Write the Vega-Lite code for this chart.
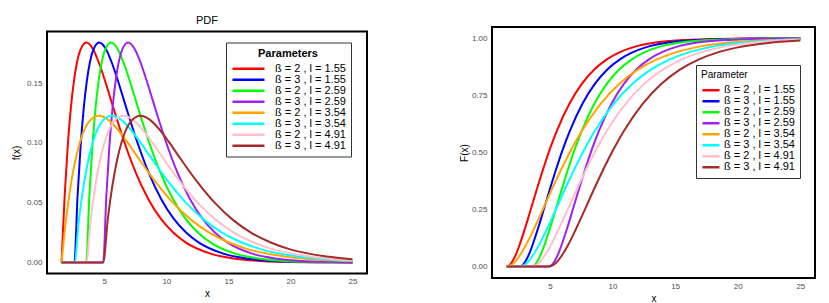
{
  "$schema": "https://vega.github.io/schema/vega-lite/v6.json",
  "padding": {"left": 10, "top": 13, "right": 5, "bottom": 5},
  "background": "white",
  "config": {
    "font": "Liberation Sans",
    "view": {"stroke": "black", "strokeWidth": 2},
    "axis": {"grid": false, "ticks": false, "domain": false, "labelFont": "Liberation Sans", "labelFontSize": 8, "labelColor": "#4d4d4d", "labelPadding": 5, "titleFont": "Liberation Sans", "titleFontWeight": "normal", "titleFontSize": 10, "titleColor": "black"},
    "title": {"font": "Liberation Sans", "fontWeight": "normal", "color": "black"},
    "legend": {"labelFont": "Liberation Sans", "titleFont": "Liberation Sans", "labelColor": "black", "titleColor": "black", "fillColor": "white", "strokeColor": "#333333", "symbolType": "stroke", "symbolStrokeWidth": 2.5}
  },
  "datasets": {
    "d": [
      {"s":"ß = 2 , l = 1.55","x":1.55,"pdf":0,"cdf":0},
      {"s":"ß = 2 , l = 1.55","x":1.8,"pdf":0.0552,"cdf":0.0072},
      {"s":"ß = 2 , l = 1.55","x":2.05,"pdf":0.0974,"cdf":0.0265},
      {"s":"ß = 2 , l = 1.55","x":2.3,"pdf":0.1289,"cdf":0.055},
      {"s":"ß = 2 , l = 1.55","x":2.55,"pdf":0.1516,"cdf":0.0902},
      {"s":"ß = 2 , l = 1.55","x":3.05,"pdf":0.1771,"cdf":0.1734},
      {"s":"ß = 2 , l = 1.55","x":3.55,"pdf":0.1839,"cdf":0.2642},
      {"s":"ß = 2 , l = 1.55","x":4.05,"pdf":0.1791,"cdf":0.3554},
      {"s":"ß = 2 , l = 1.55","x":4.55,"pdf":0.1674,"cdf":0.4422},
      {"s":"ß = 2 , l = 1.55","x":5.05,"pdf":0.1521,"cdf":0.5221},
      {"s":"ß = 2 , l = 1.55","x":5.55,"pdf":0.1353,"cdf":0.594},
      {"s":"ß = 2 , l = 1.55","x":6.55,"pdf":0.1026,"cdf":0.7127},
      {"s":"ß = 2 , l = 1.55","x":7.55,"pdf":0.0747,"cdf":0.8009},
      {"s":"ß = 2 , l = 1.55","x":8.55,"pdf":0.0529,"cdf":0.8641},
      {"s":"ß = 2 , l = 1.55","x":9.55,"pdf":0.0366,"cdf":0.9084},
      {"s":"ß = 2 , l = 1.55","x":10.55,"pdf":0.025,"cdf":0.9389},
      {"s":"ß = 2 , l = 1.55","x":11.55,"pdf":0.0168,"cdf":0.9596},
      {"s":"ß = 2 , l = 1.55","x":13.55,"pdf":0.0074,"cdf":0.9827},
      {"s":"ß = 2 , l = 1.55","x":15.55,"pdf":0.0032,"cdf":0.9927},
      {"s":"ß = 2 , l = 1.55","x":17.55,"pdf":0.0013,"cdf":0.997},
      {"s":"ß = 2 , l = 1.55","x":19.55,"pdf":0.0006,"cdf":0.9988},
      {"s":"ß = 2 , l = 1.55","x":21.55,"pdf":0.0002,"cdf":0.9995},
      {"s":"ß = 2 , l = 1.55","x":23.55,"pdf":0.0001,"cdf":0.9998},
      {"s":"ß = 2 , l = 1.55","x":25,"pdf":0.0001,"cdf":0.9999},

      {"s":"ß = 3 , l = 1.55","x":1.55,"pdf":0,"cdf":0},
      {"s":"ß = 3 , l = 1.55","x":2.59,"pdf":0,"cdf":0},
      {"s":"ß = 3 , l = 1.55","x":2.84,"pdf":0.0552,"cdf":0.0072},
      {"s":"ß = 3 , l = 1.55","x":3.09,"pdf":0.0974,"cdf":0.0265},
      {"s":"ß = 3 , l = 1.55","x":3.34,"pdf":0.1289,"cdf":0.055},
      {"s":"ß = 3 , l = 1.55","x":3.59,"pdf":0.1516,"cdf":0.0902},
      {"s":"ß = 3 , l = 1.55","x":4.09,"pdf":0.1771,"cdf":0.1734},
      {"s":"ß = 3 , l = 1.55","x":4.59,"pdf":0.1839,"cdf":0.2642},
      {"s":"ß = 3 , l = 1.55","x":5.09,"pdf":0.1791,"cdf":0.3554},
      {"s":"ß = 3 , l = 1.55","x":5.59,"pdf":0.1674,"cdf":0.4422},
      {"s":"ß = 3 , l = 1.55","x":6.09,"pdf":0.1521,"cdf":0.5221},
      {"s":"ß = 3 , l = 1.55","x":6.59,"pdf":0.1353,"cdf":0.594},
      {"s":"ß = 3 , l = 1.55","x":7.59,"pdf":0.1026,"cdf":0.7127},
      {"s":"ß = 3 , l = 1.55","x":8.59,"pdf":0.0747,"cdf":0.8009},
      {"s":"ß = 3 , l = 1.55","x":9.59,"pdf":0.0529,"cdf":0.8641},
      {"s":"ß = 3 , l = 1.55","x":10.59,"pdf":0.0366,"cdf":0.9084},
      {"s":"ß = 3 , l = 1.55","x":11.59,"pdf":0.025,"cdf":0.9389},
      {"s":"ß = 3 , l = 1.55","x":12.59,"pdf":0.0168,"cdf":0.9596},
      {"s":"ß = 3 , l = 1.55","x":14.59,"pdf":0.0074,"cdf":0.9827},
      {"s":"ß = 3 , l = 1.55","x":16.59,"pdf":0.0032,"cdf":0.9927},
      {"s":"ß = 3 , l = 1.55","x":18.59,"pdf":0.0013,"cdf":0.997},
      {"s":"ß = 3 , l = 1.55","x":20.59,"pdf":0.0006,"cdf":0.9988},
      {"s":"ß = 3 , l = 1.55","x":22.59,"pdf":0.0002,"cdf":0.9995},
      {"s":"ß = 3 , l = 1.55","x":24.59,"pdf":0.0001,"cdf":0.9998},
      {"s":"ß = 3 , l = 1.55","x":25,"pdf":0.0001,"cdf":0.9998},

      {"s":"ß = 2 , l = 2.59","x":1.55,"pdf":0,"cdf":0},
      {"s":"ß = 2 , l = 2.59","x":3.54,"pdf":0,"cdf":0},
      {"s":"ß = 2 , l = 2.59","x":3.79,"pdf":0.0552,"cdf":0.0072},
      {"s":"ß = 2 , l = 2.59","x":4.04,"pdf":0.0974,"cdf":0.0265},
      {"s":"ß = 2 , l = 2.59","x":4.29,"pdf":0.1289,"cdf":0.055},
      {"s":"ß = 2 , l = 2.59","x":4.54,"pdf":0.1516,"cdf":0.0902},
      {"s":"ß = 2 , l = 2.59","x":5.04,"pdf":0.1771,"cdf":0.1734},
      {"s":"ß = 2 , l = 2.59","x":5.54,"pdf":0.1839,"cdf":0.2642},
      {"s":"ß = 2 , l = 2.59","x":6.04,"pdf":0.1791,"cdf":0.3554},
      {"s":"ß = 2 , l = 2.59","x":6.54,"pdf":0.1674,"cdf":0.4422},
      {"s":"ß = 2 , l = 2.59","x":7.04,"pdf":0.1521,"cdf":0.5221},
      {"s":"ß = 2 , l = 2.59","x":7.54,"pdf":0.1353,"cdf":0.594},
      {"s":"ß = 2 , l = 2.59","x":8.54,"pdf":0.1026,"cdf":0.7127},
      {"s":"ß = 2 , l = 2.59","x":9.54,"pdf":0.0747,"cdf":0.8009},
      {"s":"ß = 2 , l = 2.59","x":10.54,"pdf":0.0529,"cdf":0.8641},
      {"s":"ß = 2 , l = 2.59","x":11.54,"pdf":0.0366,"cdf":0.9084},
      {"s":"ß = 2 , l = 2.59","x":12.54,"pdf":0.025,"cdf":0.9389},
      {"s":"ß = 2 , l = 2.59","x":13.54,"pdf":0.0168,"cdf":0.9596},
      {"s":"ß = 2 , l = 2.59","x":15.54,"pdf":0.0074,"cdf":0.9827},
      {"s":"ß = 2 , l = 2.59","x":17.54,"pdf":0.0032,"cdf":0.9927},
      {"s":"ß = 2 , l = 2.59","x":19.54,"pdf":0.0013,"cdf":0.997},
      {"s":"ß = 2 , l = 2.59","x":21.54,"pdf":0.0006,"cdf":0.9988},
      {"s":"ß = 2 , l = 2.59","x":23.54,"pdf":0.0002,"cdf":0.9995},
      {"s":"ß = 2 , l = 2.59","x":25,"pdf":0.0001,"cdf":0.9997},

      {"s":"ß = 3 , l = 2.59","x":1.55,"pdf":0,"cdf":0},
      {"s":"ß = 3 , l = 2.59","x":4.91,"pdf":0,"cdf":0},
      {"s":"ß = 3 , l = 2.59","x":5.16,"pdf":0.0552,"cdf":0.0072},
      {"s":"ß = 3 , l = 2.59","x":5.41,"pdf":0.0974,"cdf":0.0265},
      {"s":"ß = 3 , l = 2.59","x":5.66,"pdf":0.1289,"cdf":0.055},
      {"s":"ß = 3 , l = 2.59","x":5.91,"pdf":0.1516,"cdf":0.0902},
      {"s":"ß = 3 , l = 2.59","x":6.41,"pdf":0.1771,"cdf":0.1734},
      {"s":"ß = 3 , l = 2.59","x":6.91,"pdf":0.1839,"cdf":0.2642},
      {"s":"ß = 3 , l = 2.59","x":7.41,"pdf":0.1791,"cdf":0.3554},
      {"s":"ß = 3 , l = 2.59","x":7.91,"pdf":0.1674,"cdf":0.4422},
      {"s":"ß = 3 , l = 2.59","x":8.41,"pdf":0.1521,"cdf":0.5221},
      {"s":"ß = 3 , l = 2.59","x":8.91,"pdf":0.1353,"cdf":0.594},
      {"s":"ß = 3 , l = 2.59","x":9.91,"pdf":0.1026,"cdf":0.7127},
      {"s":"ß = 3 , l = 2.59","x":10.91,"pdf":0.0747,"cdf":0.8009},
      {"s":"ß = 3 , l = 2.59","x":11.91,"pdf":0.0529,"cdf":0.8641},
      {"s":"ß = 3 , l = 2.59","x":12.91,"pdf":0.0366,"cdf":0.9084},
      {"s":"ß = 3 , l = 2.59","x":13.91,"pdf":0.025,"cdf":0.9389},
      {"s":"ß = 3 , l = 2.59","x":14.91,"pdf":0.0168,"cdf":0.9596},
      {"s":"ß = 3 , l = 2.59","x":16.91,"pdf":0.0074,"cdf":0.9827},
      {"s":"ß = 3 , l = 2.59","x":18.91,"pdf":0.0032,"cdf":0.9927},
      {"s":"ß = 3 , l = 2.59","x":20.91,"pdf":0.0013,"cdf":0.997},
      {"s":"ß = 3 , l = 2.59","x":22.91,"pdf":0.0006,"cdf":0.9988},
      {"s":"ß = 3 , l = 2.59","x":24.91,"pdf":0.0002,"cdf":0.9995},
      {"s":"ß = 3 , l = 2.59","x":25,"pdf":0.0002,"cdf":0.9995},

      {"s":"ß = 2 , l = 3.54","x":1.55,"pdf":0,"cdf":0},
      {"s":"ß = 2 , l = 3.54","x":1.925,"pdf":0.0368,"cdf":0.0072},
      {"s":"ß = 2 , l = 3.54","x":2.3,"pdf":0.0649,"cdf":0.0265},
      {"s":"ß = 2 , l = 3.54","x":2.675,"pdf":0.0859,"cdf":0.055},
      {"s":"ß = 2 , l = 3.54","x":3.05,"pdf":0.1011,"cdf":0.0902},
      {"s":"ß = 2 , l = 3.54","x":3.8,"pdf":0.1181,"cdf":0.1734},
      {"s":"ß = 2 , l = 3.54","x":4.55,"pdf":0.1226,"cdf":0.2642},
      {"s":"ß = 2 , l = 3.54","x":5.3,"pdf":0.1194,"cdf":0.3554},
      {"s":"ß = 2 , l = 3.54","x":6.05,"pdf":0.1116,"cdf":0.4422},
      {"s":"ß = 2 , l = 3.54","x":6.8,"pdf":0.1014,"cdf":0.5221},
      {"s":"ß = 2 , l = 3.54","x":7.55,"pdf":0.0902,"cdf":0.594},
      {"s":"ß = 2 , l = 3.54","x":9.05,"pdf":0.0684,"cdf":0.7127},
      {"s":"ß = 2 , l = 3.54","x":10.55,"pdf":0.0498,"cdf":0.8009},
      {"s":"ß = 2 , l = 3.54","x":12.05,"pdf":0.0352,"cdf":0.8641},
      {"s":"ß = 2 , l = 3.54","x":13.55,"pdf":0.0244,"cdf":0.9084},
      {"s":"ß = 2 , l = 3.54","x":15.05,"pdf":0.0167,"cdf":0.9389},
      {"s":"ß = 2 , l = 3.54","x":16.55,"pdf":0.0112,"cdf":0.9596},
      {"s":"ß = 2 , l = 3.54","x":19.55,"pdf":0.005,"cdf":0.9827},
      {"s":"ß = 2 , l = 3.54","x":22.55,"pdf":0.0021,"cdf":0.9927},
      {"s":"ß = 2 , l = 3.54","x":25,"pdf":0.0011,"cdf":0.9965},

      {"s":"ß = 3 , l = 3.54","x":1.55,"pdf":0,"cdf":0},
      {"s":"ß = 3 , l = 3.54","x":2.59,"pdf":0,"cdf":0},
      {"s":"ß = 3 , l = 3.54","x":2.965,"pdf":0.0368,"cdf":0.0072},
      {"s":"ß = 3 , l = 3.54","x":3.34,"pdf":0.0649,"cdf":0.0265},
      {"s":"ß = 3 , l = 3.54","x":3.715,"pdf":0.0859,"cdf":0.055},
      {"s":"ß = 3 , l = 3.54","x":4.09,"pdf":0.1011,"cdf":0.0902},
      {"s":"ß = 3 , l = 3.54","x":4.84,"pdf":0.1181,"cdf":0.1734},
      {"s":"ß = 3 , l = 3.54","x":5.59,"pdf":0.1226,"cdf":0.2642},
      {"s":"ß = 3 , l = 3.54","x":6.34,"pdf":0.1194,"cdf":0.3554},
      {"s":"ß = 3 , l = 3.54","x":7.09,"pdf":0.1116,"cdf":0.4422},
      {"s":"ß = 3 , l = 3.54","x":7.84,"pdf":0.1014,"cdf":0.5221},
      {"s":"ß = 3 , l = 3.54","x":8.59,"pdf":0.0902,"cdf":0.594},
      {"s":"ß = 3 , l = 3.54","x":10.09,"pdf":0.0684,"cdf":0.7127},
      {"s":"ß = 3 , l = 3.54","x":11.59,"pdf":0.0498,"cdf":0.8009},
      {"s":"ß = 3 , l = 3.54","x":13.09,"pdf":0.0352,"cdf":0.8641},
      {"s":"ß = 3 , l = 3.54","x":14.59,"pdf":0.0244,"cdf":0.9084},
      {"s":"ß = 3 , l = 3.54","x":16.09,"pdf":0.0167,"cdf":0.9389},
      {"s":"ß = 3 , l = 3.54","x":17.59,"pdf":0.0112,"cdf":0.9596},
      {"s":"ß = 3 , l = 3.54","x":20.59,"pdf":0.005,"cdf":0.9827},
      {"s":"ß = 3 , l = 3.54","x":23.59,"pdf":0.0021,"cdf":0.9927},
      {"s":"ß = 3 , l = 3.54","x":25,"pdf":0.0014,"cdf":0.9952},

      {"s":"ß = 2 , l = 4.91","x":1.55,"pdf":0,"cdf":0},
      {"s":"ß = 2 , l = 4.91","x":3.54,"pdf":0,"cdf":0},
      {"s":"ß = 2 , l = 4.91","x":3.915,"pdf":0.0368,"cdf":0.0072},
      {"s":"ß = 2 , l = 4.91","x":4.29,"pdf":0.0649,"cdf":0.0265},
      {"s":"ß = 2 , l = 4.91","x":4.665,"pdf":0.0859,"cdf":0.055},
      {"s":"ß = 2 , l = 4.91","x":5.04,"pdf":0.1011,"cdf":0.0902},
      {"s":"ß = 2 , l = 4.91","x":5.79,"pdf":0.1181,"cdf":0.1734},
      {"s":"ß = 2 , l = 4.91","x":6.54,"pdf":0.1226,"cdf":0.2642},
      {"s":"ß = 2 , l = 4.91","x":7.29,"pdf":0.1194,"cdf":0.3554},
      {"s":"ß = 2 , l = 4.91","x":8.04,"pdf":0.1116,"cdf":0.4422},
      {"s":"ß = 2 , l = 4.91","x":8.79,"pdf":0.1014,"cdf":0.5221},
      {"s":"ß = 2 , l = 4.91","x":9.54,"pdf":0.0902,"cdf":0.594},
      {"s":"ß = 2 , l = 4.91","x":11.04,"pdf":0.0684,"cdf":0.7127},
      {"s":"ß = 2 , l = 4.91","x":12.54,"pdf":0.0498,"cdf":0.8009},
      {"s":"ß = 2 , l = 4.91","x":14.04,"pdf":0.0352,"cdf":0.8641},
      {"s":"ß = 2 , l = 4.91","x":15.54,"pdf":0.0244,"cdf":0.9084},
      {"s":"ß = 2 , l = 4.91","x":17.04,"pdf":0.0167,"cdf":0.9389},
      {"s":"ß = 2 , l = 4.91","x":18.54,"pdf":0.0112,"cdf":0.9596},
      {"s":"ß = 2 , l = 4.91","x":21.54,"pdf":0.005,"cdf":0.9827},
      {"s":"ß = 2 , l = 4.91","x":24.54,"pdf":0.0021,"cdf":0.9927},
      {"s":"ß = 2 , l = 4.91","x":25,"pdf":0.0019,"cdf":0.9935},

      {"s":"ß = 3 , l = 4.91","x":1.55,"pdf":0,"cdf":0},
      {"s":"ß = 3 , l = 4.91","x":4.91,"pdf":0,"cdf":0},
      {"s":"ß = 3 , l = 4.91","x":5.285,"pdf":0.0368,"cdf":0.0072},
      {"s":"ß = 3 , l = 4.91","x":5.66,"pdf":0.0649,"cdf":0.0265},
      {"s":"ß = 3 , l = 4.91","x":6.035,"pdf":0.0859,"cdf":0.055},
      {"s":"ß = 3 , l = 4.91","x":6.41,"pdf":0.1011,"cdf":0.0902},
      {"s":"ß = 3 , l = 4.91","x":7.16,"pdf":0.1181,"cdf":0.1734},
      {"s":"ß = 3 , l = 4.91","x":7.91,"pdf":0.1226,"cdf":0.2642},
      {"s":"ß = 3 , l = 4.91","x":8.66,"pdf":0.1194,"cdf":0.3554},
      {"s":"ß = 3 , l = 4.91","x":9.41,"pdf":0.1116,"cdf":0.4422},
      {"s":"ß = 3 , l = 4.91","x":10.16,"pdf":0.1014,"cdf":0.5221},
      {"s":"ß = 3 , l = 4.91","x":10.91,"pdf":0.0902,"cdf":0.594},
      {"s":"ß = 3 , l = 4.91","x":12.41,"pdf":0.0684,"cdf":0.7127},
      {"s":"ß = 3 , l = 4.91","x":13.91,"pdf":0.0498,"cdf":0.8009},
      {"s":"ß = 3 , l = 4.91","x":15.41,"pdf":0.0352,"cdf":0.8641},
      {"s":"ß = 3 , l = 4.91","x":16.91,"pdf":0.0244,"cdf":0.9084},
      {"s":"ß = 3 , l = 4.91","x":18.41,"pdf":0.0167,"cdf":0.9389},
      {"s":"ß = 3 , l = 4.91","x":19.91,"pdf":0.0112,"cdf":0.9596},
      {"s":"ß = 3 , l = 4.91","x":22.91,"pdf":0.005,"cdf":0.9827},
      {"s":"ß = 3 , l = 4.91","x":25,"pdf":0.0028,"cdf":0.9905}
    ]
  },
  "spacing": 90,
  "center": true,
  "resolve": {"scale": {"color": "independent"}, "legend": {"color": "independent"}},
  "hconcat": [
    {
      "width": 320,
      "height": 242,
      "title": {"text": "PDF", "fontSize": 11, "offset": 6},
      "data": {"name": "d"},
      "mark": {"type": "line", "strokeWidth": 2, "interpolate": "monotone", "clip": true},
      "encoding": {
        "x": {"field": "x", "type": "quantitative", "scale": {"domain": [0.38, 26.17], "nice": false, "zero": false}, "axis": {"values": [5, 10, 15, 20, 25], "title": "x", "labelPadding": 4, "titlePadding": 3}},
        "y": {"field": "pdf", "type": "quantitative", "scale": {"domain": [-0.0092, 0.1931], "nice": false}, "axis": {"values": [0, 0.05, 0.1, 0.15], "format": ".2f", "title": "f(x)", "titlePadding": 5}},
        "color": {
          "field": "s", "type": "nominal",
          "scale": {"domain": ["ß = 2 , l = 1.55", "ß = 3 , l = 1.55", "ß = 2 , l = 2.59", "ß = 3 , l = 2.59", "ß = 2 , l = 3.54", "ß = 3 , l = 3.54", "ß = 2 , l = 4.91", "ß = 3 , l = 4.91"], "range": ["#FF0000", "#0000FF", "#00FF00", "#A020F0", "#FFA500", "#00FFFF", "#FFC0CB", "#A52A2A"]},
          "legend": {"title": "Parameters", "orient": "none", "legendX": 179, "legendY": 11, "titleAnchor": "middle", "titleFontWeight": "bold", "titleFontSize": 11, "titlePadding": 5, "labelFontSize": 11, "labelOffset": 9, "symbolSize": 1024, "padding": 5, "clipHeight": 10.6, "rowPadding": -1.7}
        }
      }
    },
    {
      "width": 323,
      "height": 251,
      "data": {"name": "d"},
      "mark": {"type": "line", "strokeWidth": 2, "interpolate": "monotone", "clip": true},
      "encoding": {
        "x": {"field": "x", "type": "quantitative", "scale": {"domain": [0.38, 26.17], "nice": false, "zero": false}, "axis": {"values": [5, 10, 15, 20, 25], "title": "x", "labelPadding": 4, "titlePadding": 3}},
        "y": {"field": "cdf", "type": "quantitative", "scale": {"domain": [-0.05, 1.05], "nice": false}, "axis": {"values": [0, 0.25, 0.5, 0.75, 1], "format": ".2f", "title": "F(x)", "titlePadding": 2}},
        "color": {
          "field": "s", "type": "nominal",
          "scale": {"domain": ["ß = 2 , l = 1.55", "ß = 3 , l = 1.55", "ß = 2 , l = 2.59", "ß = 3 , l = 2.59", "ß = 2 , l = 3.54", "ß = 3 , l = 3.54", "ß = 2 , l = 4.91", "ß = 3 , l = 4.91"], "range": ["#FF0000", "#0000FF", "#00FF00", "#A020F0", "#FFA500", "#00FFFF", "#FFC0CB", "#A52A2A"]},
          "legend": {"title": "Parameter", "orient": "none", "legendX": 204, "legendY": 38, "titleAnchor": "start", "titleFontWeight": "normal", "titleFontSize": 10, "titlePadding": 5, "labelFontSize": 11, "labelOffset": 3, "symbolSize": 289, "padding": 5, "clipHeight": 10.6, "rowPadding": -1.7}
        }
      }
    }
  ]
}
